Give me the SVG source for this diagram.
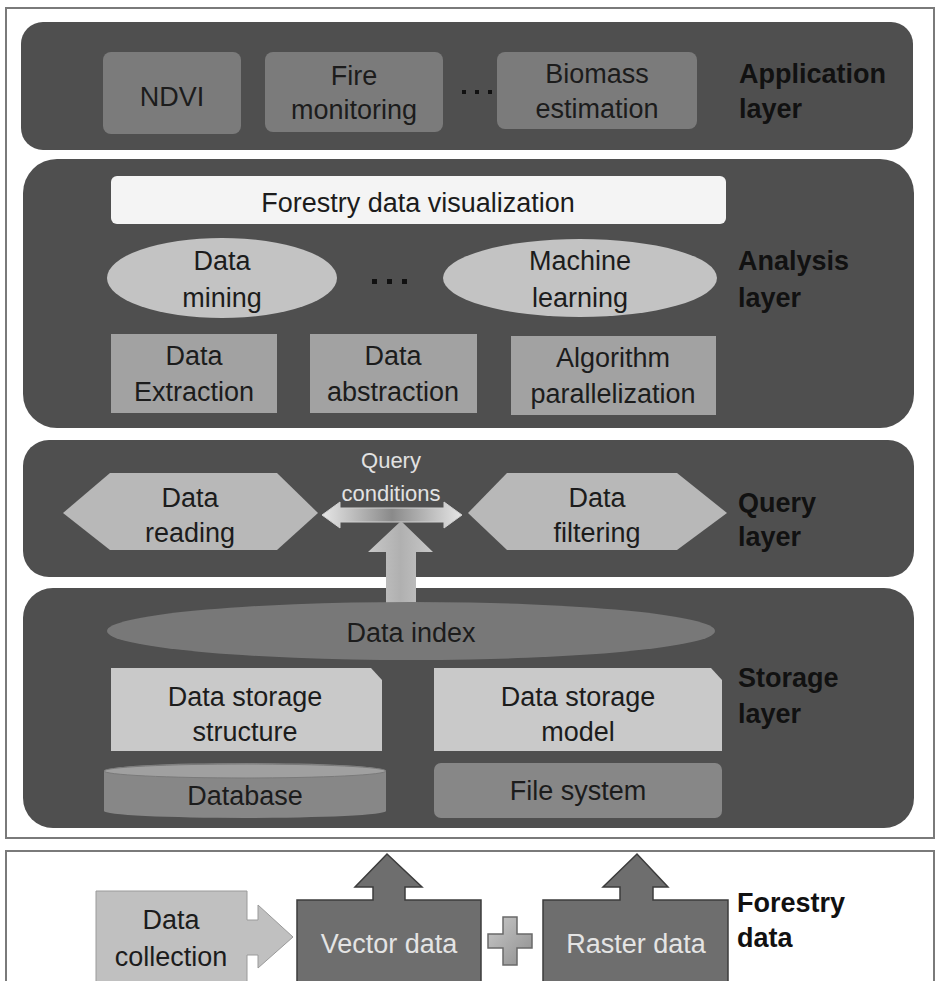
<svg xmlns="http://www.w3.org/2000/svg" width="937" height="981" viewBox="0 0 937 981">
<style>
text{font-family:"Liberation Sans",Arial,sans-serif;font-size:27px;fill:#1c1c1c;text-anchor:middle}
.lbl{font-weight:bold;text-anchor:start;fill:#111}
.layer{fill:#4f4f4f}
.app{fill:#7b7b7b}
.box{fill:#a2a2a2}
.ell{fill:#c3c3c3}
.hex{fill:#b8b8b8}
.st{fill:#c9c9c9}
.db{fill:#878787}
.src{fill:#6e6e6e;stroke:#3c3c3c;stroke-width:1.5}
.w{fill:#e4e4e4}
.dot{fill:#111}
</style>
<defs>
<linearGradient id="gq" x1="0" y1="0" x2="1" y2="0">
<stop offset="0" stop-color="#e6e6e6"/><stop offset="0.5" stop-color="#8a8a8a"/><stop offset="1" stop-color="#e6e6e6"/>
</linearGradient>
<linearGradient id="gu" x1="0" y1="0" x2="1" y2="0">
<stop offset="0" stop-color="#c8c8c8"/><stop offset="0.5" stop-color="#b0b0b0"/><stop offset="1" stop-color="#c8c8c8"/>
</linearGradient>
<linearGradient id="gp" x1="0" y1="0" x2="1" y2="1">
<stop offset="0" stop-color="#c9c9c9"/><stop offset="1" stop-color="#8e8e8e"/>
</linearGradient>
</defs>
<rect x="0" y="0" width="937" height="981" fill="#ffffff"/>
<rect x="6" y="8" width="928" height="830" fill="none" stroke="#7a7a7a" stroke-width="2"/>
<rect x="6" y="851" width="928" height="140" fill="none" stroke="#7a7a7a" stroke-width="2"/>

<g id="application-layer">
<rect class="layer" x="21" y="22" width="892" height="128" rx="22"/>
<text class="lbl" x="739" y="83">Application</text>
<text class="lbl" x="739" y="118">layer</text>
</g>
<g id="ndvi"><rect class="app" x="103" y="52" width="138" height="82" rx="8"/><text x="172" y="106">NDVI</text></g>
<g id="fire"><rect class="app" x="265" y="52" width="178" height="80" rx="8"/><text x="354" y="85">Fire</text><text x="354" y="119">monitoring</text></g>
<g id="dots1"><rect class="dot" x="462" y="90" width="4" height="4"/><rect class="dot" x="475" y="90" width="4" height="4"/><rect class="dot" x="488" y="90" width="4" height="4"/></g>
<g id="biomass"><rect class="app" x="497" y="52" width="200" height="77" rx="8"/><text x="597" y="83">Biomass</text><text x="597" y="118">estimation</text></g>

<g id="analysis-layer">
<rect class="layer" x="23" y="159" width="891" height="269" rx="34"/>
<text class="lbl" x="738" y="270">Analysis</text>
<text class="lbl" x="738" y="307">layer</text>
</g>
<g id="visualization"><rect x="111" y="176" width="615" height="48" rx="6" fill="#f4f4f4"/><text x="418" y="212">Forestry data visualization</text></g>
<g id="mining"><ellipse class="ell" cx="222" cy="278" rx="115" ry="40"/><text x="222" y="270">Data</text><text x="222" y="307">mining</text></g>
<g id="dots2"><rect class="dot" x="372" y="279" width="5" height="5"/><rect class="dot" x="387" y="279" width="5" height="5"/><rect class="dot" x="402" y="279" width="5" height="5"/></g>
<g id="ml"><ellipse class="ell" cx="580" cy="278" rx="137" ry="39"/><text x="580" y="270">Machine</text><text x="580" y="307">learning</text></g>
<g id="extraction"><rect class="box" x="111" y="334" width="166" height="79"/><text x="194" y="365">Data</text><text x="194" y="401">Extraction</text></g>
<g id="abstraction"><rect class="box" x="310" y="334" width="167" height="79"/><text x="393" y="365">Data</text><text x="393" y="401">abstraction</text></g>
<g id="parallel"><rect class="box" x="511" y="336" width="205" height="79"/><text x="613" y="367">Algorithm</text><text x="613" y="403">parallelization</text></g>

<g id="query-layer">
<rect class="layer" x="23" y="440" width="891" height="137" rx="26"/>
<text class="lbl" x="738" y="512">Query</text>
<text class="lbl" x="738" y="546">layer</text>
</g>
<g id="reading"><polygon class="hex" points="63,513 110,473 277,473 318,513 277,550 110,550"/><text x="190" y="507">Data</text><text x="190" y="542">reading</text></g>
<g id="filtering"><polygon class="hex" points="468,513 507,473 677,473 727,513 677,550 507,550"/><text x="597" y="507">Data</text><text x="597" y="542">filtering</text></g>
<g id="query-conditions"><text x="391" y="468" style="font-size:22px;fill:#e2e2e2">Query</text><text x="391" y="501" style="font-size:22px;fill:#e2e2e2">conditions</text></g>

<g id="storage-layer">
<rect class="layer" x="23" y="588" width="891" height="240" rx="30"/>
<text class="lbl" x="738" y="687">Storage</text>
<text class="lbl" x="738" y="723">layer</text>
</g>

<g id="connectors">
<polygon points="322,515 340,502 340,508 444,508 444,502 462,515 444,528 444,522 340,522 340,528" fill="url(#gq)" stroke="#d0d0d0" stroke-width="1"/>
<polygon points="401,521 433,552 416,552 416,603 386,603 386,552 368,552" fill="url(#gu)"/>
<polygon points="96,891 247,891 247,920 258,920 258,905 293,937 258,968 258,955 247,955 247,990 96,990" fill="#c0c0c0" stroke="#9a9a9a" stroke-width="1"/>
<polygon class="src" points="297,900 373,900 373,887 355,887 387,854 422,887 405,887 405,900 481,900 481,990 297,990"/>
<polygon class="src" points="543,900 620,900 620,887 603,887 637,854 668,887 653,887 653,900 728,900 728,990 543,990"/>
<polygon points="503,917 517,917 517,934 532,934 532,948 517,948 517,965 503,965 503,948 488,948 488,934 503,934" fill="url(#gp)" stroke="#6a6a6a" stroke-width="1.5"/>
</g>

<g id="data-index"><ellipse cx="411" cy="631" rx="304" ry="29" fill="#787878"/><text x="411" y="642">Data index</text></g>
<g id="storage-structure"><polygon class="st" points="111,668 371,668 382,680 382,751 111,751"/><text x="245" y="706">Data storage</text><text x="245" y="741">structure</text></g>
<g id="storage-model"><polygon class="st" points="434,668 711,668 722,680 722,751 434,751"/><text x="578" y="706">Data storage</text><text x="578" y="741">model</text></g>
<g id="database"><path class="db" d="M104,771 A141,8 0 0 1 386,771 L386,811 A141,7 0 0 1 104,811 Z"/><ellipse cx="245" cy="771" rx="141" ry="7" fill="#a0a0a0" stroke="#7a7a7a" stroke-width="1"/><text x="245" y="805">Database</text></g>
<g id="file-system"><rect class="db" x="434" y="763" width="288" height="55" rx="7"/><text x="578" y="800">File system</text></g>

<g id="data-collection"><text x="171" y="929">Data</text><text x="171" y="966">collection</text></g>
<g id="vector-data"><text class="w" x="389" y="953" style="fill:#e4e4e4">Vector data</text></g>
<g id="raster-data"><text class="w" x="636" y="953" style="fill:#e4e4e4">Raster data</text></g>
<g id="forestry-data"><text class="lbl" x="737" y="912">Forestry</text><text class="lbl" x="737" y="947">data</text></g>
</svg>
